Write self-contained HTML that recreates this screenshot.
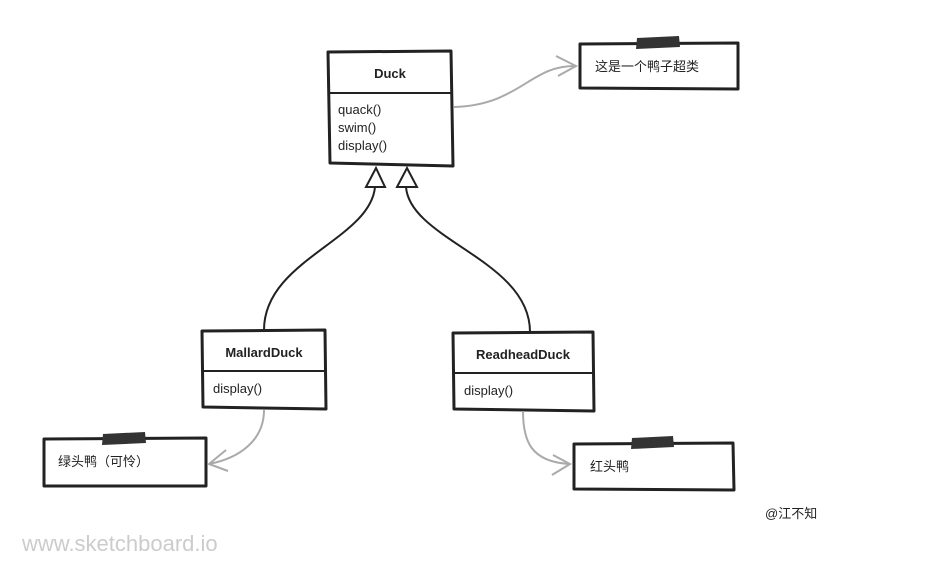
<!DOCTYPE html>
<html><head><meta charset="utf-8"><style>
html,body{margin:0;padding:0;background:#fff;width:928px;height:575px;overflow:hidden}
text{font-family:"Liberation Sans","Noto Sans CJK SC",sans-serif;font-size:13px;fill:#222}
</style></head><body>
<svg width="928" height="575" viewBox="0 0 928 575">
<g fill="#fff" stroke="#222" stroke-width="3" stroke-linejoin="round">
<path d="M328 52 L451 51 L453 166 L330 163 Z"/>
<path d="M202 331 L325 330 L326 409 L203 407 Z"/>
<path d="M453 333 L593 332 L594 411 L454 409 Z"/>
<path d="M580 44 L738 43 L738 89 L580 88 Z"/>
<path d="M44 439 L206 438 L206 486 L44 486 Z"/>
<path d="M574 444 L733 443 L734 490 L574 489 Z"/>
</g>
<g stroke="#222" stroke-width="2">
<line x1="329" y1="93" x2="452" y2="93"/>
<line x1="203" y1="371" x2="325" y2="371"/>
<line x1="454" y1="373" x2="593" y2="373"/>
</g>
<g fill="#333">
<path d="M637 38 L679 36 L680 47 L636 49 Z"/>
<path d="M103 434 L145 432 L146 443 L102 445 Z"/>
<path d="M632 438 L673 436 L674 447 L631 449 Z"/>
</g>
<g fill="none" stroke="#aaa" stroke-width="2">
<path d="M454 107 C520 105 530 65 576 66"/>
<path d="M556 56 L576 66 L558 76"/>
<path d="M264 410 C264 440 240 458 209 464"/>
<path d="M226 450 L209 464 L228 471"/>
<path d="M523 411 C523 440 530 462 570 464"/>
<path d="M553 455 L570 464 L552 475"/>
</g>
<g fill="none" stroke="#222" stroke-width="2">
<path d="M264 330 C264 260 370 240 375 187"/>
<path d="M530 332 C530 260 410 240 406 187"/>
<path d="M366 187 L376 168 L385 187 Z" fill="#fff"/>
<path d="M397 187 L407 168 L417 187 Z" fill="#fff"/>
</g>
<text x="390" y="78" text-anchor="middle" style="font-weight:bold">Duck</text>
<text x="338" y="114">quack()</text>
<text x="338" y="132">swim()</text>
<text x="338" y="150">display()</text>
<text x="264" y="357" text-anchor="middle" style="font-weight:bold">MallardDuck</text>
<text x="213" y="393">display()</text>
<text x="523" y="359" text-anchor="middle" style="font-weight:bold">ReadheadDuck</text>
<text x="464" y="395">display()</text>
<text x="595" y="71">这是一个鸭子超类</text>
<text x="58" y="466">绿头鸭（可怜）</text>
<text x="590" y="471">红头鸭</text>
<text x="765" y="518">@江不知</text>
<text x="22" y="551" style="font-size:22px;fill:#ccc">www.sketchboard.io</text>
</svg>
</body></html>
